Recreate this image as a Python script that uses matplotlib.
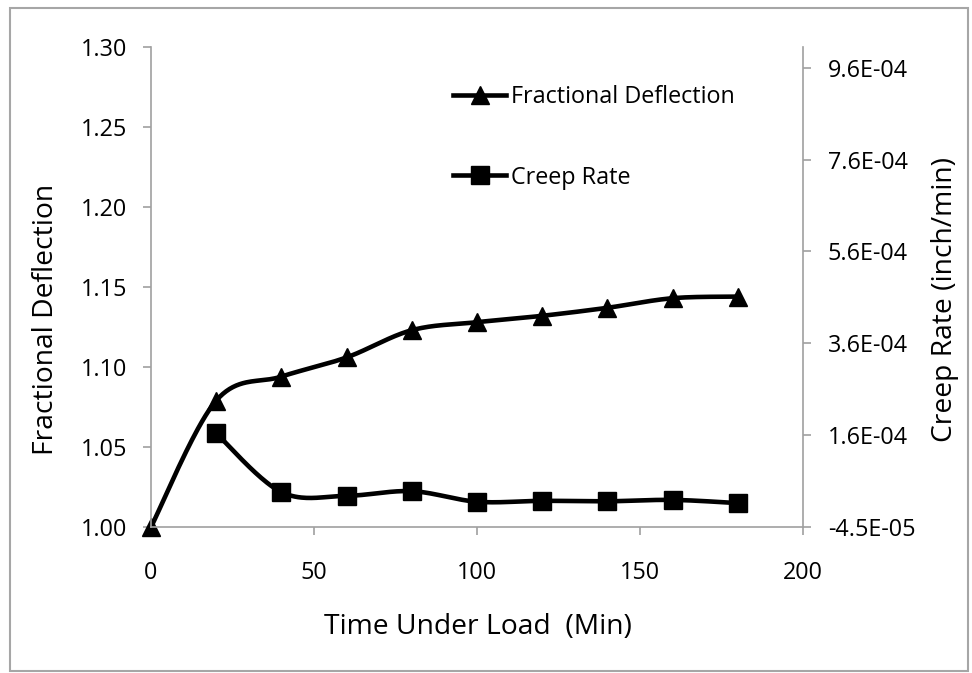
import numpy as np
import matplotlib
matplotlib.use("Agg")
import matplotlib.pyplot as plt
from matplotlib.lines import Line2D
from matplotlib.patches import Rectangle

plt.rcParams['font.family'] = ['Open Sans', 'DejaVu Sans']

# data
time_min = [0, 20, 40, 60, 80, 100, 120, 140, 160, 180]
frac_deflection = [1.000, 1.079, 1.094, 1.106, 1.123, 1.128, 1.132, 1.137,
                   1.143, 1.144]

creep_time = [20, 40, 60, 80, 100, 120, 140, 160, 180]
creep_rate = [1.59e-4, 3.1e-5, 2.3e-5, 3.3e-5, 1.0e-5, 1.2e-5, 1.1e-5,
              1.4e-5, 0.7e-5]

left_ticks = [1.00, 1.05, 1.10, 1.15, 1.20, 1.25, 1.30]
x_ticks = [0, 50, 100, 150, 200]
right_ticks = [-4.5e-5, 1.55e-4, 3.55e-4, 5.55e-4, 7.55e-4, 9.55e-4]
right_tick_labels = ['-4.5E-05', '1.6E-04', '3.6E-04', '5.6E-04',
                     '7.6E-04', '9.6E-04']

GRAY = '#a0a0a0'
FS_TICK = 16.8
FS_LABEL = 20.3
LW = 3.3
MS = 13


def smooth(x, y, n=40):
    # Excel style smoothed line: cubic Bezier with 1/6 neighbour tangents
    p = np.column_stack([x, y]).astype(float)
    pts = []
    for i in range(len(p) - 1):
        p0 = p[i - 1] if i > 0 else p[i]
        p3 = p[i + 2] if i + 2 < len(p) else p[i + 1]
        c1 = p[i] + (p[i + 1] - p0) / 6.0
        c2 = p[i + 1] - (p3 - p[i]) / 6.0
        t = np.linspace(0, 1, n)[:, None]
        seg = ((1 - t)**3 * p[i] + 3 * (1 - t)**2 * t * c1
               + 3 * (1 - t) * t**2 * c2 + t**3 * p[i + 1])
        pts.append(seg if i == 0 else seg[1:])
    pts = np.vstack(pts)
    return pts[:, 0], pts[:, 1]


fig = plt.figure(figsize=(9.72, 6.73), dpi=100)
ax = fig.add_axes([151/972, 1 - 527/673, (803 - 151)/972, (527 - 47)/673])
ax2 = ax.twinx()

sx, sy = smooth(time_min, frac_deflection)
ax.plot(sx, sy, color='black', lw=LW, solid_capstyle='round', clip_on=False)
ax.plot(time_min, frac_deflection, ls='none', marker='^', ms=MS,
        color='black', clip_on=False)

cx, cy = smooth(creep_time, creep_rate)
ax2.plot(cx, cy, color='black', lw=LW, solid_capstyle='round', clip_on=False)
ax2.plot(creep_time, creep_rate, ls='none', marker='s', ms=MS,
         color='black', clip_on=False)

ax.set_xlim(0, 200)
ax.set_ylim(1.00, 1.30)
ax2.set_ylim(-4.5e-5, 1.0e-3)

ax.set_xticks(x_ticks)
ax.set_yticks(left_ticks)
ax.set_yticklabels([f'{v:.2f}' for v in left_ticks])
ax2.set_yticks(right_ticks)
ax2.set_yticklabels(right_tick_labels)

for spine in ['top', 'right']:
    ax.spines[spine].set_visible(False)
for spine in ['top', 'left', 'bottom']:
    ax2.spines[spine].set_visible(False)
for spine in [ax.spines['left'], ax.spines['bottom'], ax2.spines['right']]:
    spine.set_color(GRAY)
    spine.set_linewidth(1.2)

ax.tick_params(axis='x', direction='out', length=5.8, width=1.2, color=GRAY,
               labelsize=FS_TICK, pad=18.5)
ax.tick_params(axis='y', direction='out', length=5.8, width=1.2, color=GRAY,
               labelsize=FS_TICK, pad=11.5)
ax2.tick_params(axis='y', direction='out', length=5.8, width=1.2, color=GRAY,
                labelsize=FS_TICK, pad=12)

ax.set_xlabel('Time Under Load  (Min)', fontsize=FS_LABEL, va='center')
ax.xaxis.set_label_coords(0.5008, -0.208)
ax.set_ylabel('Fractional Deflection', fontsize=FS_LABEL, va='center')
ax.yaxis.set_label_coords(-0.161, 0.433)
ax2.set_ylabel('Creep Rate (inch/min)', fontsize=FS_LABEL, va='center')
ax2.yaxis.set_label_coords(1.218, 0.473)

handles = [Line2D([], [], color='black', lw=LW, marker='^', ms=MS),
           Line2D([], [], color='black', lw=LW, marker='s', ms=MS)]
fig.legend(handles, ['Fractional Deflection', 'Creep Rate'],
           loc='center left', bbox_to_anchor=(452.7/972, 1 - 137.3/673),
           bbox_transform=fig.transFigure, frameon=False, fontsize=FS_TICK,
           handlelength=2.3, handletextpad=0.2, labelspacing=2.42,
           borderpad=0, borderaxespad=0, numpoints=1)

fig.patches.append(Rectangle((10/972, 1 - 671/673), 958/972, 663/673,
                             transform=fig.transFigure, fill=False,
                             ec='#a6a6a6', lw=1.5))

fig.savefig('out.png', dpi=100)
